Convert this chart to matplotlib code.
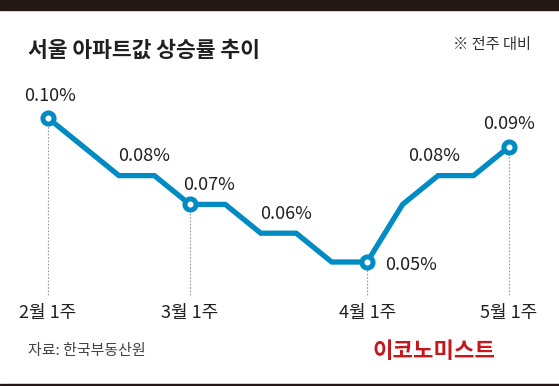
import matplotlib
matplotlib.use("Agg")
import matplotlib.pyplot as plt

plt.rcParams['font.family'] = ['Noto Sans CJK KR', 'DejaVu Sans']

# weekly change vs previous week (%), 2월 1주 .. 5월 1주
weeks = list(range(14))
values = [0.10, 0.09, 0.08, 0.08, 0.07, 0.07, 0.06, 0.06, 0.05, 0.05, 0.07, 0.08, 0.08, 0.09]
tick_weeks = [0, 4, 9, 13]
tick_labels = ['2월 1주', '3월 1주', '4월 1주', '5월 1주']
# labelled points
label_weeks = [0, 2, 4, 6, 9, 11, 13]

BLUE = '#008bc2'
DARK = '#231816'

W, H = 559, 386
fig = plt.figure(figsize=(W / 100, H / 100), dpi=100)
ax = fig.add_axes([0, 0, 1, 1])

# pixel mapping: week 0 -> x=48, 13 weeks -> x=509 ; 0.10 -> y=118, 0.01 = 28.8px
px_per_week = (509 - 48) / 13
px_per_val = 2880
ax.set_xlim(-48 / px_per_week, (W - 48) / px_per_week)
ax.set_ylim(0.10 - (H - 118) / px_per_val, 0.10 + 118 / px_per_val)
ax.axis('off')

bottom_val = 0.10 - (295 - 118) / px_per_val
for w in tick_weeks:
    ax.plot([w, w], [bottom_val, values[w]], color='#9a9a9a', lw=0.8,
            ls=(0, (1.5, 1.5)), zorder=1)

ax.plot(weeks, values, color=BLUE, lw=3.8, solid_joinstyle='miter', zorder=2)
ax.plot([weeks[w] for w in tick_weeks], [values[w] for w in tick_weeks], 'o',
        ms=8, mfc='white', mec=BLUE, mew=3.6, zorder=3)

offsets = {0: (0.05, 0.0075), 2: (0.7, 0.0068), 4: (0.55, 0.0066),
           6: (0.7, 0.0066), 9: (1.25, -0.0010), 11: (-0.1, 0.0068),
           13: (0.0, 0.0080)}
for w in label_weeks:
    dx, dy = offsets[w]
    ax.text(w + dx, values[w] + dy, f'{values[w]:.2f}%', ha='center', va='center',
            fontsize=13, color='#231f20')

label_val = 0.10 - (313 - 118) / px_per_val
for w, t in zip(tick_weeks, tick_labels):
    ax.text(w, label_val, t, ha='center', va='center', fontsize=13, color='#231f20')

# frame decorations
fig.patches.append(plt.Rectangle((0, 1 - 10 / H), 1, 10 / H, transform=fig.transFigure,
                                 color=DARK, zorder=0))
fig.patches.append(plt.Rectangle((0, 0), 1, 2.5 / H, transform=fig.transFigure,
                                 color=DARK, zorder=0))

fig.text(28 / W, 1 - 50 / H, '서울 아파트값 상승률 추이', fontsize=15.5,
         fontweight='bold', color='#231f20', va='center', ha='left')
fig.text(531 / W, 1 - 45 / H, '※ 전주 대비', fontsize=11, color='#333333',
         va='center', ha='right')
fig.text(28 / W, 1 - 351 / H, '자료: 한국부동산원', fontsize=10.8, color='#444444',
         va='center', ha='left')
fig.text(496 / W, 1 - 351 / H, '이코노미스트', fontsize=16, fontweight='bold',
         color='#c8161d', va='center', ha='right')

fig.savefig('out.png', dpi=100)
